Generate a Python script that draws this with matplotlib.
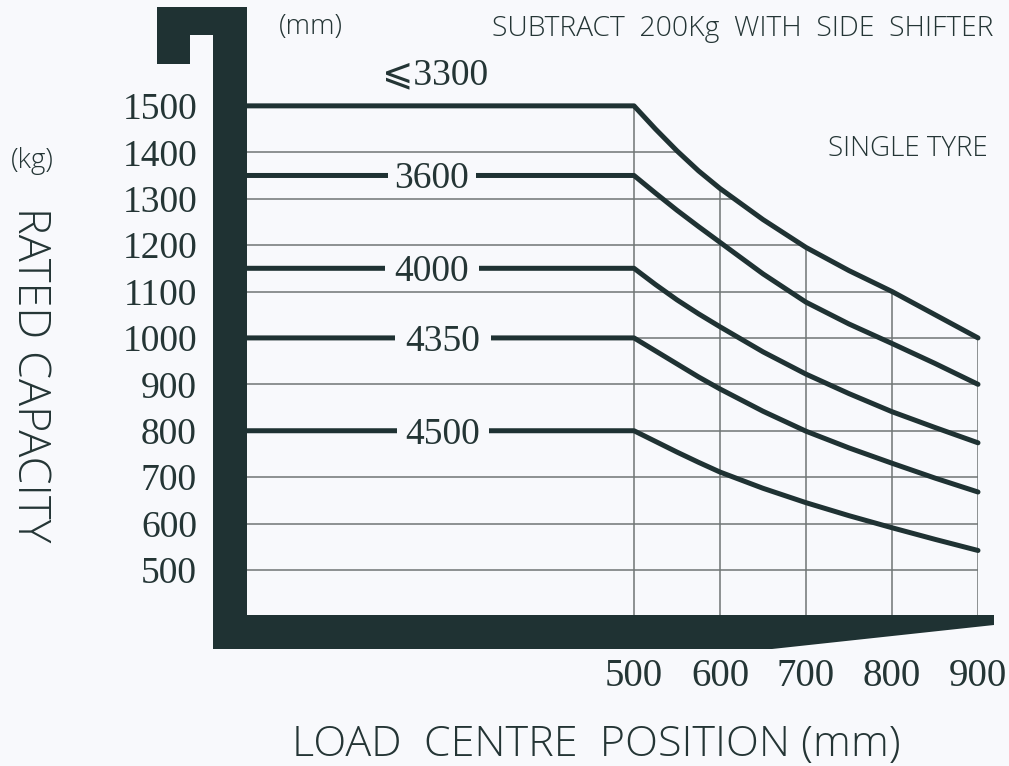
import matplotlib
matplotlib.use('Agg')
import matplotlib.pyplot as plt
from matplotlib.patches import Polygon, Rectangle

# ---------------- data ----------------
load_centre = [500, 525, 550, 575, 600, 650, 700, 750, 800, 850, 900]
cap_3300 = [1500, 1450, 1403, 1360, 1322, 1255, 1195, 1145, 1100, 1050, 1000]
cap_3600 = [1350, 1312, 1275, 1240, 1206, 1138, 1077, 1030, 988, 945, 900]
cap_4000 = [1150, 1115, 1082, 1052, 1024, 970, 922, 880, 841, 807, 774]
cap_4350 = [1000, 972, 944, 916, 890, 842, 799, 763, 730, 698, 668]
cap_4500 = [800, 777, 754, 732, 711, 676, 645, 617, 591, 566, 542]
series = [cap_3300, cap_3600, cap_4000, cap_4350, cap_4500]
series_labels = ['⩽3300', '3600', '4000', '4350', '4500']
x_start = 50
y_ticks = [500, 600, 700, 800, 900, 1000, 1100, 1200, 1300, 1400, 1500]
x_ticks = [500, 600, 700, 800, 900]

# ---------------- style ----------------
W, H = 1009, 766
BG = '#f8f9fc'
DARK = '#1f3233'
TXT = '#243535'
GRID = '#6f7575'
SERIF = ['Liberation Serif', 'DejaVu Serif', 'DejaVu Sans']
SANS = 'Open Sans'

fig = plt.figure(figsize=(W / 100, H / 100), dpi=100, facecolor=BG)


def fx(px):
    return px / W


def fy(py):
    return 1 - py / H


ax = fig.add_axes([fx(247), fy(615), fx(978) - fx(247), fy(7) - fy(615)])
ax.set_facecolor('none')
ax.set_xlim(x_start, 900)
ax.set_ylim(403, 1713)
for s in ax.spines.values():
    s.set_visible(False)

# clip region under the top (envelope) curve
env_x = [x_start, x_start] + load_centre + [load_centre[-1]]
env_y = [403, cap_3300[0]] + cap_3300 + [403]
env = Polygon(list(zip(env_x, env_y)), closed=True, transform=ax.transData,
              facecolor='none', edgecolor='none')

hl = ax.hlines([v for v in y_ticks if v < 1500], x_start, 900, color=GRID, lw=1.1, zorder=1)
hl.set_clip_path(env)
vl = ax.vlines(x_ticks, 403, 1500, color=GRID, lw=1.1, zorder=1)
vl.set_clip_path(env)

# curves
label_px = [435, 432, 432, 443, 443]
gap_half = [0, 44, 47, 48, 46]
for vals, lab, lpx, gh in zip(series, series_labels, label_px, gap_half):
    xs = [x_start] + load_centre
    ys = [vals[0]] + vals
    ax.plot(xs, ys, color=DARK, lw=3.6, solid_capstyle='round',
            solid_joinstyle='round', zorder=3, clip_on=False)
    lx = x_start + (lpx - 247) / 0.86
    if gh:
        ax.add_patch(Rectangle((lx - gh / 0.86, vals[0] - 12), 2 * gh / 0.86, 24,
                               facecolor=BG, edgecolor='none', zorder=4))
        ax.text(lx, vals[0] - 8, lab, ha='center', va='center', fontsize=27,
                family=SERIF, color=TXT, zorder=5)
    else:
        ax.text(lx, vals[0] + 66, lab, ha='center', va='center', fontsize=27,
                family=SERIF, color=TXT, zorder=5)

# ticks
ax.set_yticks(y_ticks)
ax.set_yticklabels([str(v) for v in y_ticks], family=SERIF, fontsize=27, color=TXT)
ax.set_xticks(x_ticks)
ax.set_xticklabels([str(v) for v in x_ticks], family=SERIF, fontsize=28, color=TXT)
ax.tick_params(axis='y', length=0, pad=36)
ax.tick_params(axis='x', length=0, pad=31)

# dark frame
frame_px = [(157, 7), (247, 7), (247, 615), (994, 615), (994, 625), (772, 649),
            (213, 649), (213, 35), (190, 35), (190, 64), (157, 64)]
fig.add_artist(Polygon([(fx(a), fy(b)) for a, b in frame_px], closed=True,
                       transform=fig.transFigure, facecolor=DARK, edgecolor='none',
                       zorder=10))

# texts
fig.text(fx(311), fy(27), '(mm)', ha='center', va='center', fontsize=20,
         family=SANS, weight='light', color=TXT)
fig.text(fx(993), fy(29), 'SUBTRACT  200Kg  WITH  SIDE  SHIFTER', ha='right', va='center',
         fontsize=20.3, family=SANS, weight='light', color=TXT)
fig.text(fx(988), fy(149), 'SINGLE TYRE', ha='right', va='center', fontsize=20,
         family=SANS, weight='light', color=TXT)
fig.text(fx(32), fy(161), '(kg)', ha='center', va='center', fontsize=20,
         family=SANS, weight='light', color=TXT)
fig.text(fx(29), fy(375), 'RATED CAPACITY', ha='center', va='center', rotation=270,
         fontsize=32.5, family=SANS, weight='light', color=TXT)
fig.text(fx(596), fy(745), 'LOAD  CENTRE  POSITION (mm)', ha='center', va='center',
         fontsize=31, family=SANS, weight='light', color=TXT)

fig.savefig('out.png', dpi=100, facecolor=BG)
